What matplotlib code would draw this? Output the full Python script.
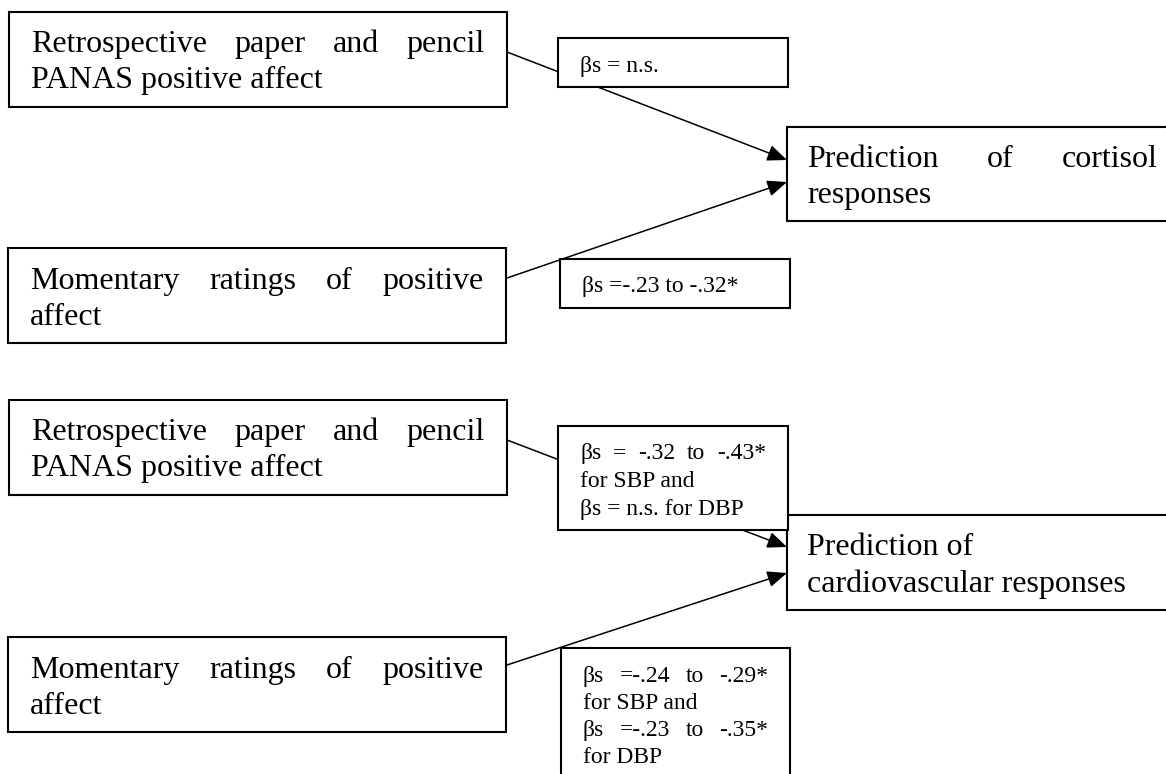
import matplotlib
matplotlib.use("Agg")
import matplotlib.pyplot as plt
from matplotlib.patches import Rectangle

plt.rcParams['font.family'] = ['Liberation Serif', 'DejaVu Serif']

# box texts (one list per line, flag = justified)
retro_lines = [("Retrospective paper and pencil", True), ("PANAS positive affect", False)]
moment_lines = [("Momentary ratings of positive", True), ("affect", False)]
cortisol_lines = [("Prediction of cortisol", True), ("responses", False)]
cardio_lines = [("Prediction of", False), ("cardiovascular responses", False)]

beta_cort_retro = [("βs = n.s.", False)]
beta_cort_moment = [("βs =-.23 to -.32*", False)]
beta_cardio_retro = [("βs = -.32 to -.43*", True), ("for SBP and", False), ("βs = n.s. for DBP", False)]
beta_cardio_moment = [("βs =-.24 to -.29*", True), ("for SBP and", False),
                      ("βs =-.23 to -.35*", True), ("for DBP", False)]

W, H = 1166, 774
fig = plt.figure(figsize=(W / 100, H / 100), dpi=100)
ax = fig.add_axes([0, 0, 1, 1])
ax.set_xlim(0, W)
ax.set_ylim(H, 0)
ax.axis('off')
renderer = fig.canvas.get_renderer()


def put_line(text, x0, x1, y, size, justify):
    if not justify:
        ax.text(x0, y, text, fontsize=size, va='baseline', ha='left', zorder=5)
        return
    words = text.split()
    arts = [ax.text(0, y, w, fontsize=size, va='baseline', ha='left', zorder=5) for w in words]
    widths = [a.get_window_extent(renderer).width for a in arts]
    gap = (x1 - x0 - sum(widths)) / (len(words) - 1)
    x = x0
    for a, w in zip(arts, widths):
        a.set_x(x)
        x += w + gap


def box(x0, y0, x1, y1, lines, size, first, step, pad=22, lw=1.5):
    ax.add_patch(Rectangle((x0, y0), x1 - x0, y1 - y0, facecolor='white',
                           edgecolor='black', lw=lw, zorder=3))
    for i, (txt, just) in enumerate(lines):
        put_line(txt, x0 + pad, x1 - pad, y0 + first + i * step, size, just)


def arrow(start, tip):
    ax.annotate('', xy=tip, xytext=start, zorder=2,
                arrowprops=dict(arrowstyle='-|>,head_length=0.6,head_width=0.25',
                                color='black', lw=1.1, shrinkA=0, shrinkB=0,
                                mutation_scale=20))


big, small = 23, 17

# cortisol panel
arrow((507, 52), (787, 160))
arrow((507, 278), (787, 182))
box(9, 12, 507, 107, retro_lines, big, 40, 36)
box(8, 248, 506, 343, moment_lines, big, 41, 36)
box(787, 127, 1178, 221, cortisol_lines, big, 40, 36, pad=20)
box(558, 38, 788, 87, beta_cort_retro, small, 34, 27)
box(560, 259, 790, 308, beta_cort_moment, small, 33, 27)

# cardiovascular panel
arrow((507, 440), (787, 547))
arrow((507, 665), (787, 573))
box(9, 400, 507, 495, retro_lines, big, 40, 36)
box(8, 637, 506, 732, moment_lines, big, 41, 36)
box(787, 515, 1178, 610, cardio_lines, big, 40, 37, pad=20)
box(558, 426, 788, 530, beta_cardio_retro, small, 33, 28)
box(561, 648, 790, 800, beta_cardio_moment, small, 34, 27)

fig.savefig("out.png", dpi=100)
